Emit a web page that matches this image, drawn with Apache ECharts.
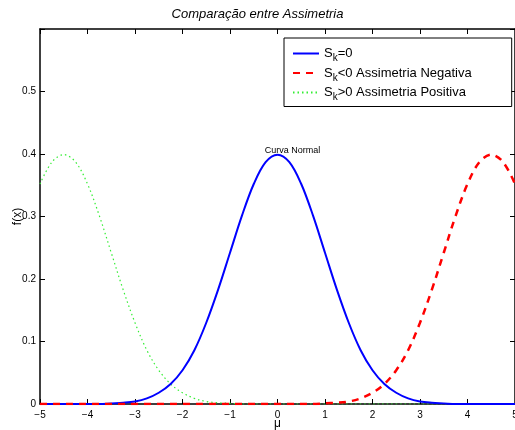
<!DOCTYPE html>
<html>
<head>
<meta charset="utf-8">
<script src="https://cdn.jsdelivr.net/npm/echarts@6/dist/echarts.min.js"></script>
<style>
  html, body { margin: 0; padding: 0; background: #fff; }
  #chart { width: 515px; height: 430px; }
</style>
</head>
<body>
<div id="chart"></div>
<script>
// eixo x (passo 0.25 de -5 a 5)
var xValues = [-5, -4.75, -4.5, -4.25, -4, -3.75, -3.5, -3.25, -3, -2.75, -2.5, -2.25, -2, -1.75, -1.5, -1.25, -1, -0.75, -0.5, -0.25,
               0, 0.25, 0.5, 0.75, 1, 1.25, 1.5, 1.75, 2, 2.25, 2.5, 2.75, 3, 3.25, 3.5, 3.75, 4, 4.25, 4.5, 4.75, 5];
// Sk=0 (curva normal)
var normalVals = [0, 0, 0, 0, 0, 0, 0.001, 0.002, 0.004, 0.009, 0.018, 0.032, 0.054, 0.086, 0.130, 0.183, 0.242, 0.301, 0.352, 0.387,
                  0.399, 0.387, 0.352, 0.301, 0.242, 0.183, 0.130, 0.086, 0.054, 0.032, 0.018, 0.009, 0.004, 0.002, 0.001, 0, 0, 0, 0, 0, 0];
// Sk<0 assimetria negativa
var negVals = [0, 0, 0, 0, 0, 0, 0, 0, 0, 0, 0, 0, 0, 0, 0, 0, 0, 0, 0, 0,
               0, 0, 0, 0, 0.001, 0.002, 0.004, 0.009, 0.018, 0.032, 0.054, 0.086, 0.130, 0.183, 0.242, 0.301, 0.352, 0.387, 0.399, 0.387, 0.352];
// Sk>0 assimetria positiva
var posVals = [0.352, 0.387, 0.399, 0.387, 0.352, 0.301, 0.242, 0.183, 0.130, 0.086, 0.054, 0.032, 0.018, 0.009, 0.004, 0.002, 0.001, 0, 0, 0,
               0, 0, 0, 0, 0, 0, 0, 0, 0, 0, 0, 0, 0, 0, 0, 0, 0, 0, 0, 0, 0];
var seriesNames = ['Sk=0', 'Sk<0 Assimetria Negativa', 'Sk>0 Assimetria Positiva'];
var legendTexts = {
    'Sk=0': '{a|S}{s|k}{a|=0}',
    'Sk<0 Assimetria Negativa': '{a|S}{s|k}{a|<0 Assimetria Negativa}',
    'Sk>0 Assimetria Positiva': '{a|S}{s|k}{a|>0 Assimetria Positiva}'
};

function pairs(vals) {
    return xValues.map(function (x, i) { return [x, vals[i]]; });
}

var chart = echarts.init(document.getElementById('chart'));
var fontFam = 'Liberation Sans, Arial, sans-serif';
function axisCommon() {
    return {
        axisLine: { show: true, onZero: false, lineStyle: { color: '#000', width: 1.5 } },
        axisTick: { show: true, inside: true, length: 5, lineStyle: { color: '#000' } },
        splitLine: { show: false }
    };
}

chart.setOption({
    animation: false,
    title: {
        text: 'Comparação entre Assimetria',
        left: 'center',
        top: 3,
        textStyle: { fontFamily: fontFam, fontSize: 13, fontStyle: 'italic', fontWeight: 'normal', color: '#000' }
    },
    grid: { left: 40, right: 0, top: 29, bottom: 26, outerBoundsMode: 'none', containLabel: false },
    legend: {
        data: seriesNames,
        orient: 'vertical',
        left: 284,
        top: 38,
        width: 220,
        itemWidth: 26,
        itemHeight: 12,
        itemGap: 3,
        padding: [9, 40, 4, 8],
        borderColor: '#000',
        borderWidth: 1,
        backgroundColor: '#fff',
        itemStyle: { opacity: 0 },
        formatter: function (name) { return legendTexts[name]; },
        textStyle: {
            rich: {
                a: { fontFamily: fontFam, fontSize: 13, color: '#000' },
                s: { fontFamily: fontFam, fontSize: 10, color: '#000', padding: [10, 0, 0, 0] }
            }
        }
    },
    xAxis: [
        Object.assign({
            type: 'value', min: -5, max: 5, interval: 1,
            name: 'μ', nameLocation: 'middle', nameGap: 14, nameMoveOverlap: false,
            nameTextStyle: { fontFamily: fontFam, fontSize: 12, color: '#000' },
            axisLabel: {
                fontFamily: fontFam, fontSize: 10, color: '#000', margin: 6,
                formatter: function (v) { return v < 0 ? '\u2212' + Math.abs(v) : String(v); }
            }
        }, axisCommon()),
        Object.assign({
            type: 'value', min: -5, max: 5, interval: 1, position: 'top',
            axisLabel: { show: false }
        }, axisCommon())
    ],
    yAxis: [
        Object.assign({
            type: 'value', min: 0, max: 0.6, interval: 0.1,
            name: 'f(x)', nameLocation: 'middle', nameGap: 16, nameRotate: 90, nameMoveOverlap: false,
            nameTextStyle: { fontFamily: fontFam, fontSize: 12, color: '#000' },
            axisLabel: {
                fontFamily: fontFam, fontSize: 10, color: '#000', margin: 4,
                formatter: function (v) { return v > 0.55 ? '' : String(Math.round(v * 10) / 10); }
            }
        }, axisCommon()),
        Object.assign({
            type: 'value', min: 0, max: 0.6, interval: 0.1, position: 'right',
            axisLabel: { show: false }
        }, axisCommon())
    ],
    series: [
        {
            name: seriesNames[0], type: 'line', data: pairs(normalVals),
            smooth: 0.35, symbol: 'none', z: 4,
            lineStyle: { color: '#0000ff', width: 2 },
            itemStyle: { color: '#0000ff' },
            markPoint: {
                symbol: 'circle', symbolSize: 0,
                data: [{ coord: [0, 0.399] }],
                label: {
                    show: true, position: 'top', distance: 0, offset: [15, 0],
                    formatter: 'Curva Normal',
                    fontFamily: fontFam, fontSize: 9, color: '#000'
                }
            }
        },
        {
            name: seriesNames[1], type: 'line', data: pairs(negVals),
            smooth: 0.35, symbol: 'none', z: 5,
            lineStyle: { color: '#ff0000', width: 2.5, type: [7, 6] },
            itemStyle: { color: '#ff0000' }
        },
        {
            name: seriesNames[2], type: 'line', data: pairs(posVals),
            smooth: 0.35, symbol: 'none', z: 3,
            lineStyle: { color: '#33ee33', width: 1.2, type: [1.5, 3] },
            itemStyle: { color: '#33ee33' }
        }
    ]
});
</script>
</body>
</html>
